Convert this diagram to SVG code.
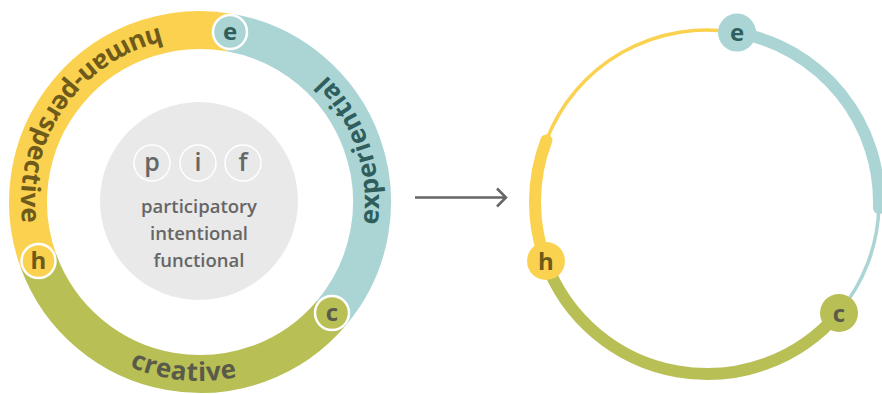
<svg xmlns="http://www.w3.org/2000/svg" width="882" height="394" viewBox="0 0 882 394">
<style>
.band{fill:none;stroke-width:38}
.y{stroke:#FBD24F}.t{stroke:#AAD5D4}.g{stroke:#B7BF55}
.lbl{font-family:"Open Sans","DejaVu Sans",sans-serif;font-weight:700;font-size:26px;letter-spacing:0.6px}
.nl{font-family:"Open Sans","DejaVu Sans",sans-serif;font-weight:700;font-size:24px;text-anchor:middle}
.pl{font-family:"Open Sans","DejaVu Sans",sans-serif;font-weight:600;font-size:25px;text-anchor:middle;fill:#666}
.ctr{font-family:"Open Sans","DejaVu Sans",sans-serif;font-weight:600;font-size:18.5px;fill:#666;text-anchor:middle}
.thin{fill:none;stroke-width:3.5}
.thick{fill:none;stroke-width:12;stroke-linecap:round}
</style>
<defs>
<path id="pH" d="M261.2,33.8 A179,179 0 0 0 62.9,317.1"/>
<path id="pE" d="M335.1,319.4 A179,179 0 0 0 234.2,26.3"/>
<path id="pC" d="M37.1,276.3 A179,179 0 0 0 345.7,306.0"/>
</defs>
<g id="left-ring">
<path class="band y" d="M38.4,260.8 A172,172 0 0 1 229.9,32.6"/>
<path class="band t" d="M229.9,32.6 A172,172 0 0 1 331.8,312.6"/>
<path class="band g" d="M331.8,312.6 A172,172 0 0 1 38.4,260.8"/>
<text class="lbl" fill="#6E5A1A"><textPath href="#pH" startOffset="50%" text-anchor="middle">human-perspective</textPath></text>
<text class="lbl" fill="#2F5E5C"><textPath href="#pE" startOffset="50%" text-anchor="middle">experiential</textPath></text>
<text class="lbl" fill="#5A5A4A"><textPath href="#pC" startOffset="50%" text-anchor="middle">creative</textPath></text>
</g>
<g id="pif-core">
<circle cx="199" cy="201" r="99" fill="#E8E9E8"/>
<circle cx="152" cy="163" r="18" fill="none" stroke="#fff" stroke-width="1.5"/>
<circle cx="198" cy="163" r="18" fill="none" stroke="#fff" stroke-width="1.5"/>
<circle cx="243" cy="163" r="18" fill="none" stroke="#fff" stroke-width="1.5"/>
<text class="pl" x="152" y="171">p</text>
<text class="pl" x="198" y="171">i</text>
<text class="pl" x="243" y="171">f</text>
<text class="ctr" x="199" y="213">participatory</text>
<text class="ctr" x="199" y="240">intentional</text>
<text class="ctr" x="199" y="267">functional</text>
</g>
<g id="node-e-left"><circle cx="230" cy="32" r="17" fill="#AAD5D4" stroke="#fff" stroke-width="2.5"/><text class="nl" x="230" y="40" fill="#2F5E5C">e</text></g>
<g id="node-h-left"><circle cx="38.5" cy="261" r="17" fill="#FBD24F" stroke="#fff" stroke-width="2.5"/><text class="nl" x="38.5" y="269" fill="#6E5A1A">h</text></g>
<g id="node-c-left"><circle cx="332" cy="313" r="17" fill="#B7BF55" stroke="#fff" stroke-width="2.5"/><text class="nl" x="332" y="321" fill="#5A5A4A">c</text></g>
<g id="connectors">
<path d="M415,197.5 H506 M497,188.5 L506,197.5 L497,206.5" fill="none" stroke="#666" stroke-width="2.5"/>
</g>
<g id="right-ring">
<path class="thin y" d="M546.4,140.4 A172,172 0 0 1 736.9,32.6"/>
<path class="thick y" d="M545.4,260.8 A172,172 0 0 1 546.4,140.4"/>
<path class="thick t" d="M736.9,32.6 A172,172 0 0 1 878.9,208"/>
<path class="thin t" d="M878.9,208 A172,172 0 0 1 838.8,312.6"/>
<path class="thick g" d="M838.8,312.6 A172,172 0 0 1 545.4,260.8"/>
</g>
<g id="node-e-right"><circle cx="737" cy="32.6" r="19" fill="#AAD5D4"/><text class="nl" x="737" y="41" fill="#2F5E5C" font-size="25">e</text></g>
<g id="node-h-right"><circle cx="546" cy="261" r="19" fill="#FBD24F"/><text class="nl" x="546" y="270" fill="#6E5A1A" font-size="25">h</text></g>
<g id="node-c-right"><circle cx="839" cy="313" r="19" fill="#B7BF55"/><text class="nl" x="839" y="322" fill="#5A5A4A" font-size="25">c</text></g>
</svg>
